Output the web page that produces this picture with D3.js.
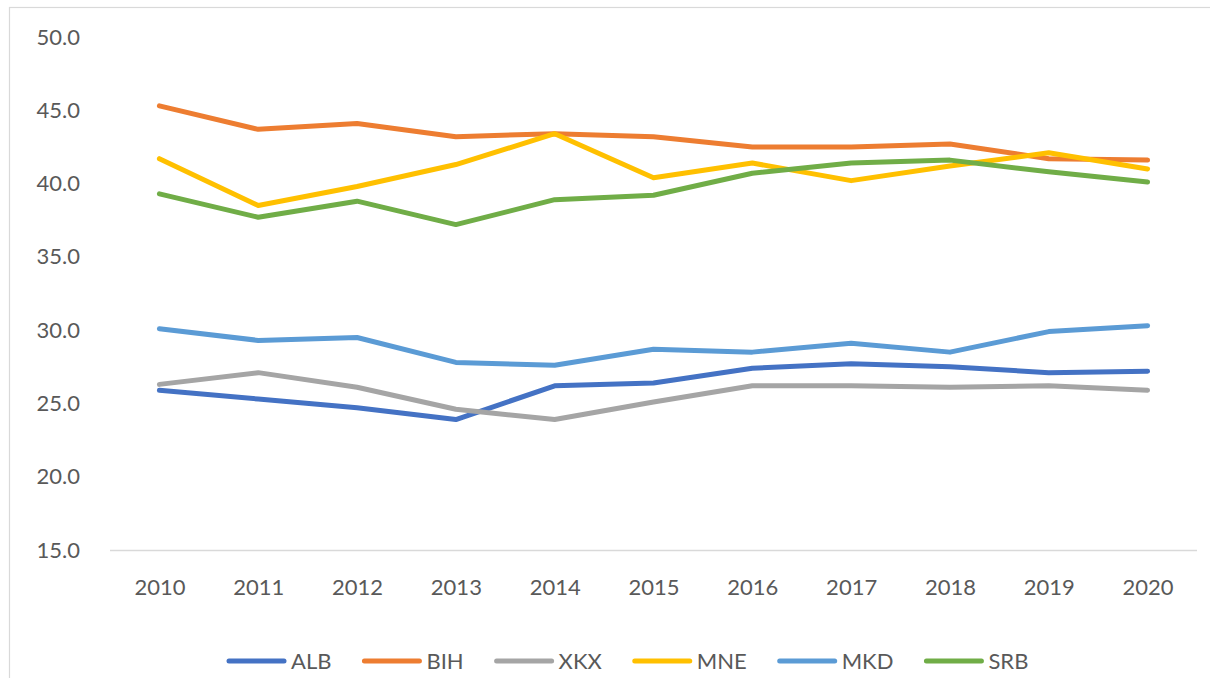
<!DOCTYPE html>
<html>
<head>
<meta charset="utf-8">
<script src="https://cdn.jsdelivr.net/npm/d3@7"></script>
<style>
  body { margin: 0; background: #fff; }
  svg { display: block; font-family: Lato, "Open Sans", sans-serif; }
</style>
</head>
<body>
<svg id="chart" width="1210" height="678"></svg>
<script>
// Chart data
const years = ["2010", "2011", "2012", "2013", "2014", "2015", "2016", "2017", "2018", "2019", "2020"];
const seriesNames = ["ALB", "BIH", "XKX", "MNE", "MKD", "SRB"];
const seriesColors = ["#4472C4", "#ED7D31", "#A5A5A5", "#FFC000", "#5B9BD5", "#70AD47"];
const ALB = [25.9, 25.3, 24.7, 23.9, 26.2, 26.4, 27.4, 27.7, 27.5, 27.1, 27.2];
const BIH = [45.3, 43.7, 44.1, 43.2, 43.4, 43.2, 42.5, 42.5, 42.7, 41.7, 41.6];
const XKX = [26.3, 27.1, 26.1, 24.6, 23.9, 25.1, 26.2, 26.2, 26.1, 26.2, 25.9];
const MNE = [41.7, 38.5, 39.8, 41.3, 43.4, 40.4, 41.4, 40.2, 41.2, 42.1, 41.0];
const MKD = [30.1, 29.3, 29.5, 27.8, 27.6, 28.7, 28.5, 29.1, 28.5, 29.9, 30.3];
const SRB = [39.3, 37.7, 38.8, 37.2, 38.9, 39.2, 40.7, 41.4, 41.6, 40.8, 40.1];
const yTicks = [15, 20, 25, 30, 35, 40, 45, 50];

const seriesValues = [ALB, BIH, XKX, MNE, MKD, SRB];
const series = seriesNames.map((name, i) => ({
    name: name,
    color: seriesColors[i],
    values: seriesValues[i].map((v, j) => ({ year: years[j], value: v }))
}));

const svg = d3.select("#chart");
const textColor = "#595959";

// Outer chart frame (extends past the bottom/right of the picture)
svg.append("rect")
    .attr("x", 9.5)
    .attr("y", 7.5)
    .attr("width", 1400)
    .attr("height", 800)
    .attr("fill", "none")
    .attr("stroke", "#d9d9d9")
    .attr("stroke-width", 1.2);

const plot = { left: 110, right: 1197, top: 37, bottom: 550 };

const x = d3.scalePoint().domain(years).range([plot.left, plot.right]).padding(0.5);
const y = d3.scaleLinear().domain([15, 50]).range([plot.bottom, plot.top]);

// Y axis labels (no axis line)
const yAxis = svg.append("g")
    .attr("transform", "translate(80,0)")
    .call(d3.axisLeft(y).tickValues(yTicks).tickFormat(d3.format(".1f")).tickSize(0).tickPadding(0));
yAxis.select(".domain").remove();
yAxis.selectAll("text")
    .style("font-family", "Lato, 'Open Sans', sans-serif")
    .style("font-size", "22px")
    .attr("fill", textColor);

// X axis with light baseline
const xAxis = svg.append("g")
    .attr("transform", `translate(0,${plot.bottom})`)
    .call(d3.axisBottom(x).tickSize(0).tickPadding(29).tickSizeOuter(0));
xAxis.select(".domain")
    .attr("d", `M${plot.left},0.5H${plot.right}`)
    .attr("stroke", "#d9d9d9")
    .attr("stroke-width", 1.5);
xAxis.selectAll("text")
    .style("font-family", "Lato, 'Open Sans', sans-serif")
    .style("font-size", "22px")
    .attr("fill", textColor);

// Series lines
const line = d3.line()
    .x(d => x(d.year))
    .y(d => y(d.value));

svg.append("g")
    .selectAll("path")
    .data(series)
    .join("path")
    .attr("d", d => line(d.values))
    .attr("fill", "none")
    .attr("stroke", d => d.color)
    .attr("stroke-width", 5)
    .attr("stroke-linejoin", "round")
    .attr("stroke-linecap", "round");

// Legend, laid out left to right
const legend = svg.append("g").attr("transform", "translate(0,661)");
let lx = 229;
series.forEach(s => {
    legend.append("line")
        .attr("x1", lx)
        .attr("x2", lx + 55)
        .attr("y1", 0)
        .attr("y2", 0)
        .attr("stroke", s.color)
        .attr("stroke-width", 5)
        .attr("stroke-linecap", "round");
    const t = legend.append("text")
        .attr("x", lx + 62)
        .attr("y", 0)
        .attr("dy", "0.36em")
        .style("font-size", "22px")
        .attr("fill", textColor)
        .text(s.name);
    lx += 62 + t.node().getComputedTextLength() + 33;
});
</script>
</body>
</html>
